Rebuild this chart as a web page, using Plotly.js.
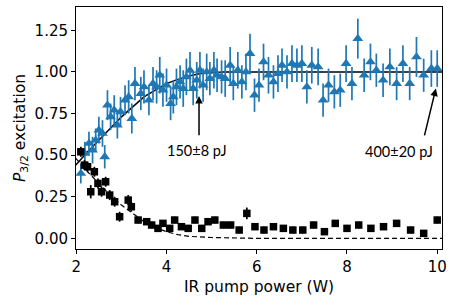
<!DOCTYPE html>
<html>
<head>
<meta charset="utf-8">
<script src="https://cdn.plot.ly/plotly-3.0.1.min.js"></script>
<style>html,body{margin:0;padding:0;background:#fff;}#chart{width:463px;height:300px;}</style>
</head>
<body>
<div id="chart"></div>
<script>
// P3/2 excitation at 150 pJ (blue triangles)
const blueX = [2.10,2.19,2.28,2.36,2.43,2.50,2.58,2.63,2.69,2.76,2.84,2.91,2.98,3.08,3.16,3.23,3.30,3.43,3.50,3.61,3.70,3.78,3.85,3.92,4.00,4.09,4.15,4.22,4.30,4.37,4.44,4.52,4.59,4.67,4.74,4.81,4.89,4.96,5.05,5.12,5.22,5.30,5.41,5.48,5.58,5.67,5.76,5.85,5.95,6.05,6.15,6.26,6.37,6.47,6.56,6.67,6.78,6.89,7.00,7.11,7.22,7.36,7.47,7.59,7.72,7.85,7.98,8.11,8.24,8.38,8.52,8.65,8.80,8.95,9.10,9.24,9.39,9.54,9.70,9.87,10.00];
const blueY = [0.39,0.51,0.57,0.53,0.59,0.65,0.63,0.49,0.80,0.73,0.77,0.68,0.76,0.83,0.85,0.72,0.93,0.87,0.91,0.83,0.93,0.91,0.98,0.89,0.92,0.81,0.85,0.91,0.94,0.90,0.97,1.01,0.90,0.95,1.01,0.92,1.00,0.96,1.01,0.98,0.97,0.96,1.04,0.93,1.01,0.94,1.00,1.11,0.86,0.92,1.06,0.98,0.94,0.99,1.04,1.00,1.05,1.04,1.05,0.91,1.04,1.03,0.83,0.92,0.88,0.89,1.05,0.93,1.20,0.98,1.06,1.01,0.95,1.03,0.93,1.05,0.93,1.09,0.98,1.02,1.02];
const blueErr = [0.06,0.07,0.07,0.08,0.07,0.08,0.08,0.07,0.09,0.08,0.09,0.08,0.09,0.09,0.10,0.09,0.10,0.10,0.10,0.09,0.10,0.10,0.11,0.10,0.10,0.10,0.10,0.11,0.10,0.11,0.11,0.11,0.10,0.11,0.11,0.10,0.11,0.10,0.11,0.10,0.10,0.11,0.11,0.10,0.11,0.10,0.11,0.12,0.10,0.10,0.11,0.11,0.10,0.11,0.10,0.10,0.11,0.10,0.11,0.10,0.11,0.11,0.10,0.10,0.10,0.10,0.11,0.10,0.12,0.10,0.11,0.10,0.10,0.11,0.10,0.11,0.10,0.12,0.10,0.11,0.11];

// P3/2 excitation at 400 pJ (black squares)
const blackX = [2.10,2.18,2.25,2.32,2.40,2.48,2.56,2.65,2.74,2.85,2.96,3.15,3.22,3.37,3.56,3.67,3.81,3.92,4.07,4.18,4.33,4.48,4.63,4.78,4.92,5.07,5.26,5.42,5.61,5.78,5.96,6.16,6.37,6.59,6.80,7.02,7.26,7.50,7.74,8.00,8.26,8.53,8.81,9.10,9.41,9.70,10.00];
const blackY = [0.52,0.44,0.43,0.28,0.40,0.33,0.28,0.34,0.26,0.22,0.13,0.23,0.19,0.11,0.10,0.08,0.06,0.09,0.06,0.11,0.07,0.06,0.11,0.06,0.10,0.11,0.08,0.08,0.05,0.15,0.07,0.05,0.07,0.06,0.05,0.05,0.08,0.04,0.09,0.06,0.08,0.06,0.07,0.09,0.05,0.03,0.11];
const blackErr = [0.03,0.03,0.03,0.04,0.03,0.03,0.03,0.03,0.03,0.03,0.03,0.03,0.03,0.02,0.02,0.02,0.02,0.02,0.02,0.02,0.02,0.02,0.02,0.02,0.02,0.02,0.02,0.02,0.02,0.035,0.02,0.02,0.02,0.02,0.02,0.02,0.02,0.02,0.02,0.02,0.02,0.02,0.02,0.02,0.02,0.02,0.02];

// Fit curves
const fitRiseX = [1.99,2.25,2.50,2.75,3.00,3.25,3.50,3.75,4.00,4.25,4.50,4.75,5.00,5.25,5.50,10.11];
const fitRiseY = [0.44,0.52,0.59,0.66,0.73,0.79,0.85,0.89,0.93,0.955,0.975,0.99,0.997,1.0,1.0,1.0];
const fitDecayX = [1.99,2.25,2.50,2.75,3.00,3.25,3.50,3.75,4.00,4.25,4.50,5.00,5.50,6.00,10.11];
const fitDecayY = [0.48,0.40,0.33,0.26,0.20,0.15,0.10,0.065,0.04,0.022,0.012,0.005,0.002,0.0,0.0];

const xTicks = [2,4,6,8,10];
const yTicks = [0,0.25,0.5,0.75,1.0,1.25];
const yTickText = ['0.00','0.25','0.50','0.75','1.00','1.25'];

const traces = [
  {x: fitRiseX, y: fitRiseY, mode: 'lines', line: {color: '#000', width: 1.5}, hoverinfo: 'skip'},
  {x: fitDecayX, y: fitDecayY, mode: 'lines', line: {color: '#000', width: 1.2, dash: '5px,3px'}, hoverinfo: 'skip'},
  {x: blueX, y: blueY, mode: 'markers', marker: {symbol: 'triangle-up', size: 9.5, color: '#1f77b4'},
   error_y: {type: 'data', array: blueErr, visible: true, color: '#1f77b4', thickness: 1.7, width: 0}},
  {x: blackX, y: blackY, mode: 'markers', marker: {symbol: 'square', size: 7.5, color: '#000'},
   error_y: {type: 'data', array: blackErr, visible: true, color: '#000', thickness: 1.7, width: 0}}
];

const tickFont = {family: 'DejaVu Sans', size: 15, color: '#000'};
const layout = {
  width: 463, height: 300,
  margin: {l: 76, r: 20.5, t: 7, b: 51},
  showlegend: false,
  paper_bgcolor: '#fff', plot_bgcolor: '#fff',
  xaxis: {range: [1.993, 10.106], tickvals: xTicks, ticktext: xTicks.map(String), ticks: 'outside', ticklen: 4, tickcolor: '#000',
    showgrid: false, zeroline: false, showline: true, linecolor: '#000', linewidth: 1, mirror: true,
    tickfont: tickFont, title: {text: 'IR pump power (W)', font: {family: 'DejaVu Sans', size: 15.5, color: '#000'}, standoff: 6}},
  yaxis: {range: [-0.064, 1.39], tickvals: yTicks, ticktext: yTickText, ticks: 'outside', ticklen: 4, tickcolor: '#000',
    showgrid: false, zeroline: false, showline: true, linecolor: '#000', linewidth: 1, mirror: true,
    tickfont: tickFont, title: {text: '<i>P</i><sub>3/2</sub> excitation', font: {family: 'DejaVu Sans', size: 15.5, color: '#000'}, standoff: 5}},
  annotations: [
    {x: 4.72, y: 0.855, ax: 4.72, ay: 0.61, xref: 'x', yref: 'y', axref: 'x', ayref: 'y', text: '', showarrow: true,
     arrowhead: 2, arrowsize: 1, arrowwidth: 1.5, arrowcolor: '#000'},
    {x: 4.68, y: 0.53, xref: 'x', yref: 'y', text: '150±8 pJ', showarrow: false, font: {family: 'Lato', size: 14.5, color: '#000'}},
    {x: 9.97, y: 0.90, ax: 9.71, ay: 0.61, xref: 'x', yref: 'y', axref: 'x', ayref: 'y', text: '', showarrow: true,
     arrowhead: 2, arrowsize: 1, arrowwidth: 1.5, arrowcolor: '#000'},
    {x: 9.16, y: 0.52, xref: 'x', yref: 'y', text: '400±20 pJ', showarrow: false, font: {family: 'Lato', size: 14.5, color: '#000'}}
  ]
};

Plotly.newPlot('chart', traces, layout, {staticPlot: true, displayModeBar: false});
</script>
</body>
</html>
